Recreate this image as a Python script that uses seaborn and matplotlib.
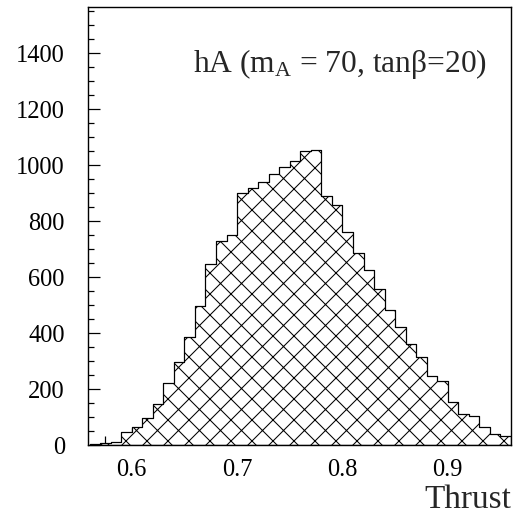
import numpy as np
import pandas as pd
import matplotlib
matplotlib.use("Agg")
import matplotlib.pyplot as plt
from matplotlib.ticker import MultipleLocator
import seaborn as sns

# Thrust distribution, bins of width 0.01 from 0.56 to 0.96
bin_low = [0.56, 0.57, 0.58, 0.59, 0.60, 0.61, 0.62, 0.63, 0.64, 0.65,
           0.66, 0.67, 0.68, 0.69, 0.70, 0.71, 0.72, 0.73, 0.74, 0.75,
           0.76, 0.77, 0.78, 0.79, 0.80, 0.81, 0.82, 0.83, 0.84, 0.85,
           0.86, 0.87, 0.88, 0.89, 0.90, 0.91, 0.92, 0.93, 0.94, 0.95]
counts = [3, 8, 12, 45, 65, 98, 146, 221, 296, 386,
          496, 647, 730, 750, 900, 919, 938, 967, 995, 1015,
          1050, 1055, 890, 858, 762, 685, 625, 556, 484, 422,
          361, 313, 247, 227, 153, 110, 104, 66, 39, 31]
bin_width = 0.01
x_ticks = [0.6, 0.7, 0.8, 0.9]
y_ticks = [0, 200, 400, 600, 800, 1000, 1200, 1400]

edges = [round(v, 3) for v in bin_low] + [round(bin_low[-1] + bin_width, 3)]
df = pd.DataFrame({"thrust": np.array(bin_low) + bin_width / 2,
                   "events": counts})

sns.set_style("white")
plt.rcParams["font.family"] = ["Liberation Serif", "DejaVu Serif"]
plt.rcParams["mathtext.fontset"] = "custom"
plt.rcParams["mathtext.rm"] = "Liberation Serif"
plt.rcParams["mathtext.it"] = "Liberation Serif:italic"
plt.rcParams["hatch.color"] = "black"
plt.rcParams["hatch.linewidth"] = 0.6

DPI = 126
fig = plt.figure(figsize=(516 / DPI, 520 / DPI), dpi=DPI)
ax = fig.add_axes([87.5 / 516, 1 - 445 / 520, (511 - 87.5) / 516, (445 - 7) / 520])

sns.histplot(data=df, x="thrust", weights="events", bins=edges,
             element="step", fill=True, color="white", alpha=1,
             edgecolor="black", linewidth=0.7, hatch="xx", ax=ax)

ax.set_xlim(0.558, 0.96)
ax.set_ylim(0, 1565)
ax.set_xticks(x_ticks)
ax.set_yticks(y_ticks)
ax.xaxis.set_minor_locator(MultipleLocator(0.025))
ax.yaxis.set_minor_locator(MultipleLocator(50))
ax.set_xticklabels([f"{v:.1f}" for v in x_ticks])
ax.set_yticklabels([str(v) for v in y_ticks])

ax.tick_params(axis="both", which="both", direction="in", bottom=True,
               left=True, top=False, right=False, colors="black",
               width=0.7, labelsize=14)
ax.tick_params(axis="y", which="major", length=7, pad=13)
ax.tick_params(axis="y", which="minor", length=3.5)
ax.tick_params(axis="x", which="major", length=10, pad=8)
ax.tick_params(axis="x", which="minor", length=5)

for sp in ax.spines.values():
    sp.set_visible(True)
    sp.set_color("black")
    sp.set_linewidth(0.8)

ax.set_ylabel("")
ax.set_xlabel("Thrust", loc="right", fontsize=19, labelpad=2)

ax.text(0.249, 0.852, r"hA (m$_{\rm A}$ = 70, tanβ=20)", transform=ax.transAxes,
        fontsize=18, ha="left", va="baseline")

fig.savefig("out.png", dpi=DPI)
